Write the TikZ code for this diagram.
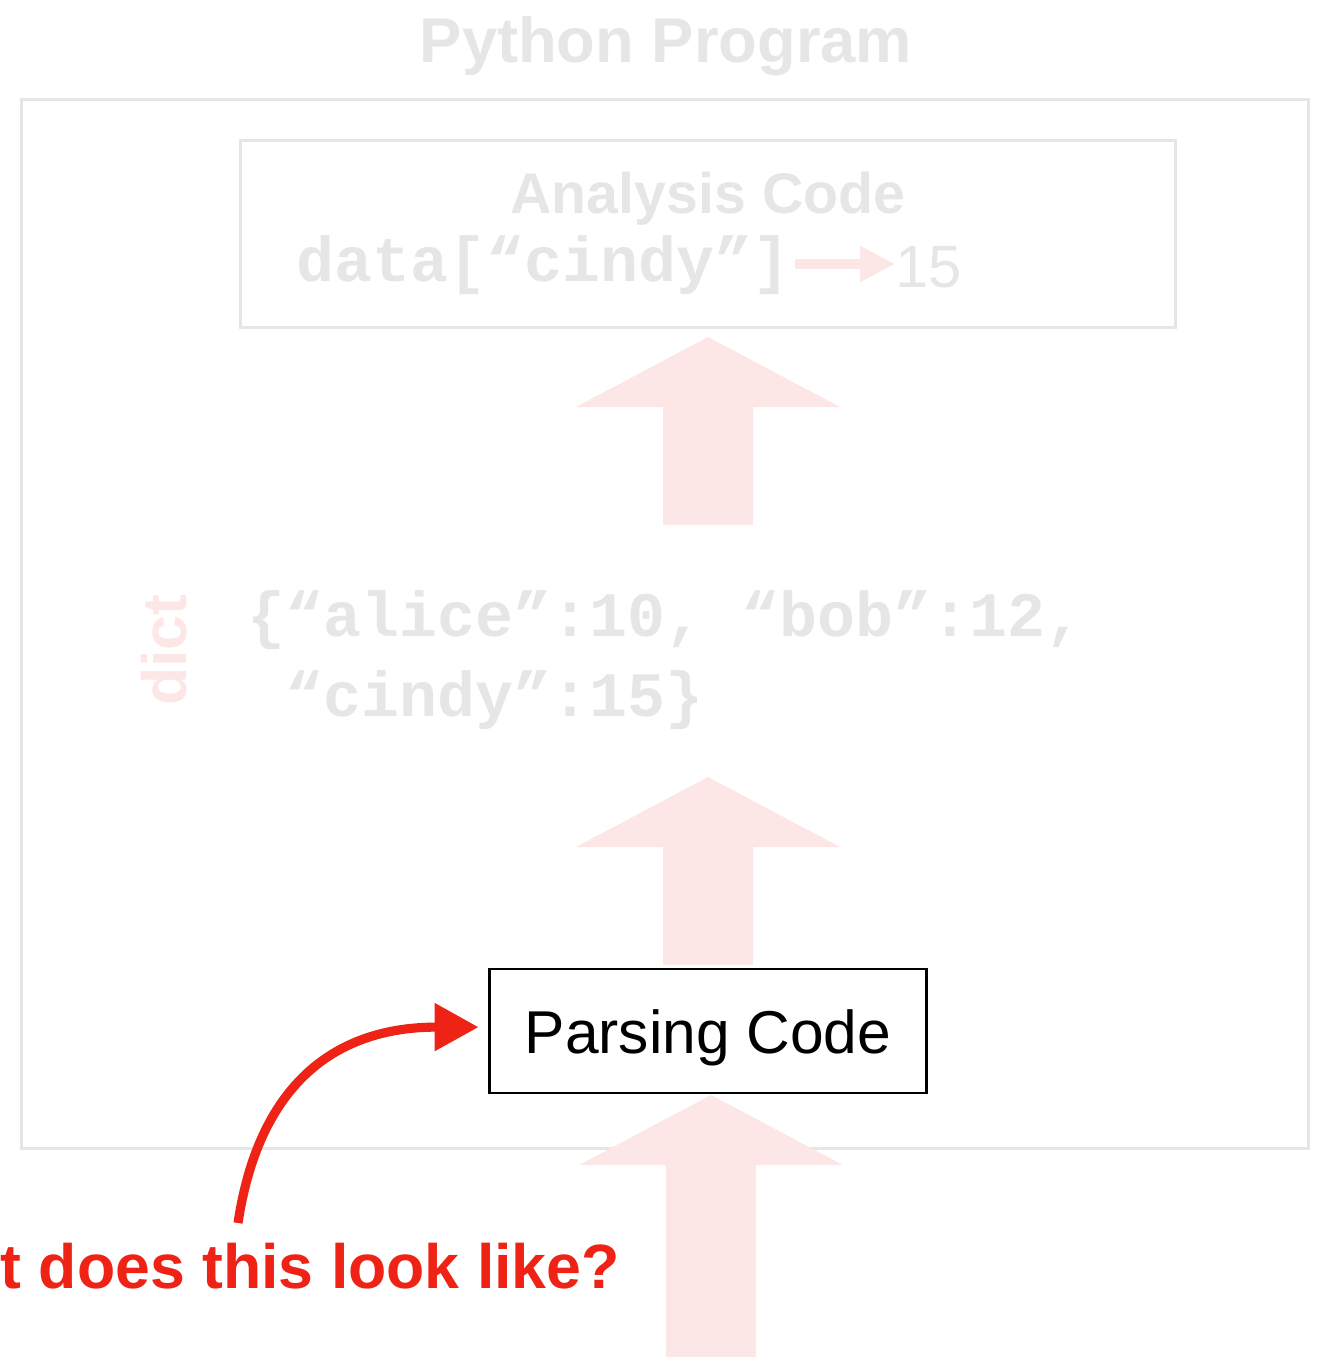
\documentclass[tikz,border=0pt]{standalone}
\usepackage{fontspec}
\setmainfont{Liberation Sans}
\newfontfamily\codefont{Liberation Mono}
\usetikzlibrary{arrows.meta,positioning}
\definecolor{faded}{HTML}{E6E6E6}
\definecolor{fadedred}{HTML}{FCE6E6}
\definecolor{askred}{HTML}{EE2316}
\tikzset{
  fadedbox/.style={draw=faded, line width=0.85pt, inner sep=0pt},
  heading/.style={font=\bfseries\fontsize{18}{20}\selectfont, text=faded, inner sep=0pt},
  code/.style={font=\codefont\bfseries\fontsize{18}{22}\selectfont, text=faded, inner sep=0pt},
  bigarrow/.style={fill=fadedred, draw=none}
}

\begin{document}
\begin{tikzpicture}[x=0.01cm, y=-0.01cm]
    \useasboundingbox (0,0) rectangle (1323,1357);

    \node[fadedbox, minimum width=12.86cm, minimum height=10.48cm] (prog) at (665,624) {};
    \node[heading, anchor=base] (title) at (666,62) {Python Program};

    \node[fadedbox, minimum width=9.34cm, minimum height=1.86cm] (analysis) at (708,234) {};
    \node[heading, font=\bfseries\fontsize{16.3}{20}\selectfont, anchor=base] (atitle) at (708,213) {Analysis Code};
    \node[code, anchor=base west] (data) at (296,281) {data[“cindy”]};
    \node[inner sep=0pt, text=faded, font=\fontsize{17}{20}\selectfont, anchor=base west] (fifteen) at (895,287) {15};
    \coordinate (lookup) at (795,264);
    \draw[fadedred, line width=3.1pt, -{Triangle[length=10pt,width=9.7pt]}] (lookup) -- (lookup -| fifteen.west);

    \node[code, anchor=base west] (dict1) at (247,636) {\{“alice”:10, “bob”:12,};
    \node[code, anchor=base west] (dict2) at (285,716) {“cindy”:15\}};
    \node[heading, text=fadedred, font=\bfseries\fontsize{17.8}{20}\selectfont, rotate=90, anchor=base] (dicttype) at (186,650) {dict};

    % block arrows: x, tip, bottom
    \foreach \ax/\tip/\bot in {708/337/525, 708/777/965, 711/1095/1357}
        \fill[bigarrow] (\ax,\tip) -- (\ax+132,\tip+70) -- (\ax+45,\tip+70) -- (\ax+45,\bot)
            -- (\ax-45,\bot) -- (\ax-45,\tip+70) -- (\ax-132,\tip+70) -- cycle;

    \node[draw, fill=white, line width=0.8pt, minimum width=4.36cm, minimum height=1.24cm,
        text height=12.6pt, text depth=0pt, font=\fontsize{17.2}{20}\selectfont] (parse) at (708,1031) {Parsing Code};

    \node[font=\bfseries\fontsize{17.8}{20}\selectfont, text=askred, inner sep=0pt, anchor=base west] (question) at (0,1288) {t does this look like?};
    \coordinate (qtop) at (238,1223);
    \draw[askred, line width=2.6pt, shorten >=2.8pt, -{Triangle[length=12.5pt,width=13pt]}]
        (qtop) .. controls (258,1090) and (330,1027) .. ([yshift=1.1pt]parse.west);
\end{tikzpicture}
\end{document}
